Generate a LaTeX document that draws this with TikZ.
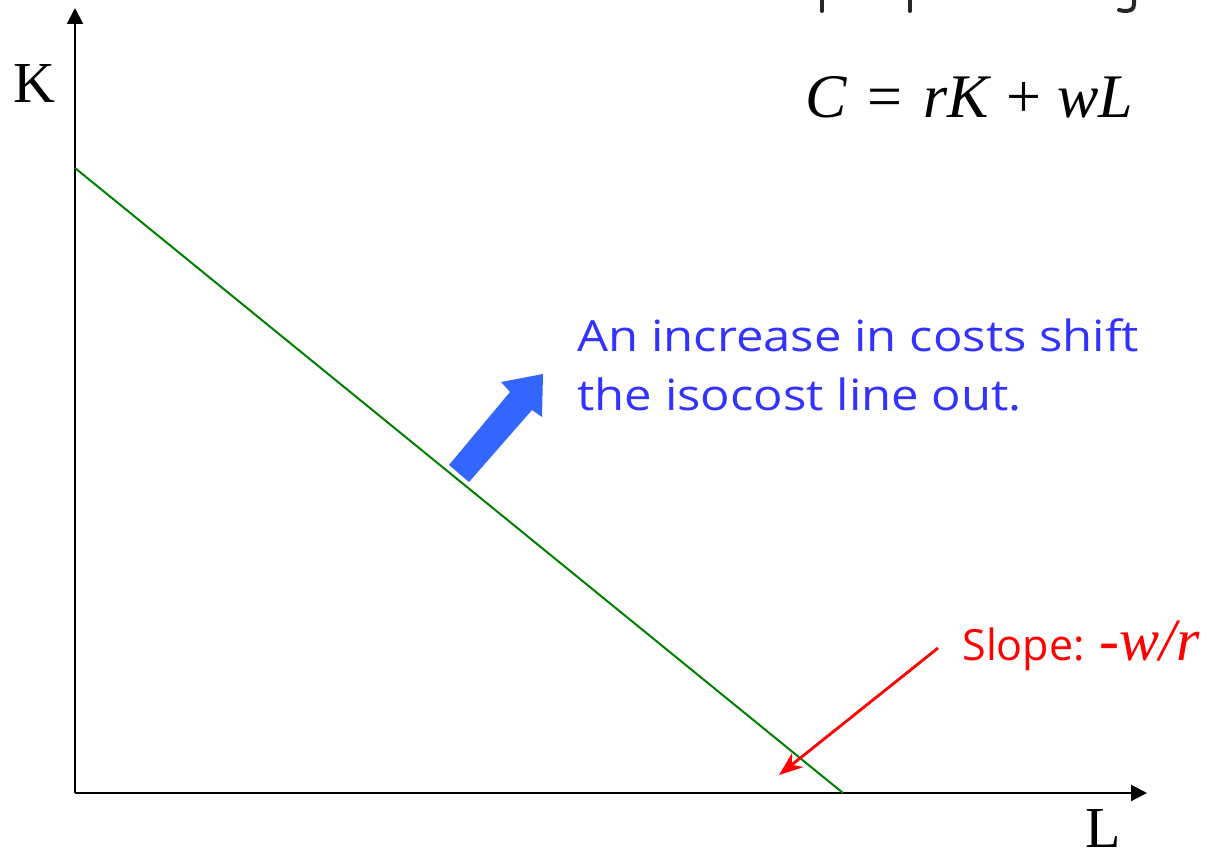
\documentclass[tikz,border=0pt]{standalone}
\usepackage{fontspec}
\setmainfont{Liberation Serif}
\newfontfamily\casual[FakeStretch=1.14]{Open Sans}
\newfontfamily\casualplain{Open Sans}
\usetikzlibrary{arrows.meta}
\definecolor{isogreen}{RGB}{0,128,0}
\definecolor{shiftblue}{RGB}{51,102,255}
\definecolor{textblue}{RGB}{51,51,255}
\definecolor{slopered}{RGB}{255,0,0}
\begin{document}
\begin{tikzpicture}[x=0.5pt,y=-0.5pt,
  axis/.style={line width=1pt,-{Triangle[length=8pt,width=8pt]}},
  isoline/.style={isogreen,line width=1pt},
  slopearrow/.style={slopered,line width=1.4pt,-{Stealth[length=12pt,width=9pt]}},
  axislabel/.style={font=\fontsize{29}{29}\selectfont,anchor=base,inner sep=0pt},
  bluetext/.style={font=\casual\fontsize{21.5}{21.5}\selectfont,text=textblue,anchor=base west,inner sep=0pt},
  redtext/.style={font=\casualplain\fontsize{21.5}{21.5}\selectfont,text=slopered,anchor=base west,inner sep=0pt},
  eqtext/.style={font=\fontsize{31}{31}\selectfont,anchor=base west,inner sep=0pt},
  descender/.style={black!85,line width=2pt,line cap=round}]
\useasboundingbox (0,0) rectangle (1209,855);
% clipped descenders of a title above the picture
\draw[descender] (822,-2) -- (822,11);
\draw[descender] (910,-2) -- (910,11);
\draw[descender] (1134,-2) -- (1134,4) .. controls (1134,10) and (1130,11) .. (1124,11) -- (1119,10);
% axes
\coordinate (O) at (75,793);
\coordinate (ytip) at (75,8);
\coordinate (xtip) at (1147,793);
\draw[axis] (O) -- (ytip);
\draw[axis] (O) -- (xtip);
\node[axislabel] (K) at (34,103) {K};
\node[axislabel] (L) at (1103,847) {L};
% isocost line
\coordinate (a) at (75,168);
\coordinate (b) at (843,793);
\draw[isoline] (a) -- (b);
% shift arrow
\fill[shiftblue] (449,465) -- (510,392) -- (501,382) -- (543,374) -- (542,417) -- (532,410) -- (469,482) -- cycle;
% texts
\node[bluetext] (t1) at (577,352) {An increase in costs shift};
\node[bluetext] (t2) at (577,410) {the isocost line out.};
\node[eqtext] (eq) at (805,118) {\textit{C}\hspace{0.33em}=\hspace{0.33em}\textit{rK}\hspace{0.25em}+\hspace{0.25em}\textit{wL}};
\node[redtext] (slope) at (962,660) {Slope: {\rmfamily\fontsize{30}{30}\selectfont\textit{-w/r}}};
\coordinate (s) at (938,648);
\coordinate (st) at (779,775);
\draw[slopearrow] (s) -- (st);
\end{tikzpicture}
\end{document}
